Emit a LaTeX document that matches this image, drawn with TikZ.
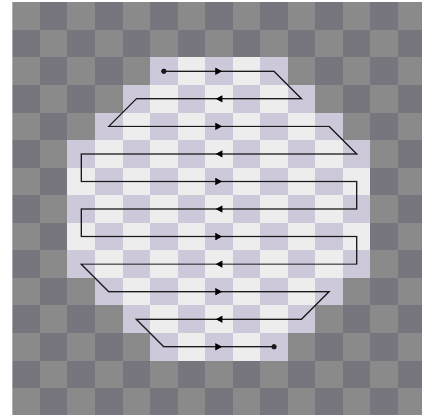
\documentclass[tikz,border=0pt]{standalone}
\usetikzlibrary{arrows.meta,decorations.markings}
\definecolor{gA}{HTML}{8A8A8A}
\definecolor{gB}{HTML}{77767F}
\definecolor{lA}{HTML}{EDEDED}
\definecolor{lB}{HTML}{CDC8DA}
\definecolor{linec}{HTML}{1A1A1A}
\tikzset{
  flow/.style={draw=linec, line width=1.2pt, line join=miter},
  midarrow/.style={color=linec, decorate, decoration={markings,
     mark=at position 0.5 with {\arrow[xshift=3pt]{Triangle[length=6.5pt,width=7pt]}}}},
  enddot/.style={fill=linec}
}
\begin{document}
\begin{tikzpicture}[x=1pt,y=-1pt]
\useasboundingbox (0,0) rectangle (422,419);
\fill[white] (0,0) rectangle (422,419);
\begin{scope}
\clip (12.3,2.4) rectangle (422,414);
\foreach \r in {0,...,14}{\foreach \c in {0,...,14}{
  \pgfmathtruncatemacro\myp{mod(\r+\c,2)}
  \ifnum\myp=0 \def\cellcol{gA}\else\def\cellcol{gB}\fi
  \fill[\cellcol] ({12.3+27.55*\c},{2.4+27.55*\r}) rectangle ++(27.55,27.55);
}}
\end{scope}
\foreach \r/\a/\b in {2/5/9,3/4/10,4/3/11,5/2/12,6/2/12,7/2/12,8/2/12,9/2/12,10/3/11,11/4/10,12/5/9}{
  \foreach \c in {\a,...,\b}{
    \pgfmathtruncatemacro\myp{mod(\r+\c,2)}
    \ifnum\myp=0 \def\cellcol{lA}\else\def\cellcol{lB}\fi
    \fill[\cellcol] ({12.3+27.55*\c},{2.4+27.55*\r}) rectangle ++(27.55,27.55);
  }
  \coordinate (L\r) at ({26.075+27.55*\a},{16.175+27.55*\r});
  \coordinate (R\r) at ({26.075+27.55*\b},{16.175+27.55*\r});
}
\draw[flow] (L2) -- (R2) -- (R3) -- (L3) -- (L4) -- (R4) -- (R5) -- (L5) -- (L6) -- (R6)
  -- (R7) -- (L7) -- (L8) -- (R8) -- (R9) -- (L9) -- (L10) -- (R10) -- (R11) -- (L11)
  -- (L12) -- (R12);
\foreach \r in {2,4,6,8,10,12}{\path[midarrow] (L\r) -- (R\r);}
\foreach \r in {3,5,7,9,11}{\path[midarrow] (R\r) -- (L\r);}
\fill[enddot] (L2) circle (2.7);
\fill[enddot] (R12) circle (2.7);
\end{tikzpicture}
\end{document}
